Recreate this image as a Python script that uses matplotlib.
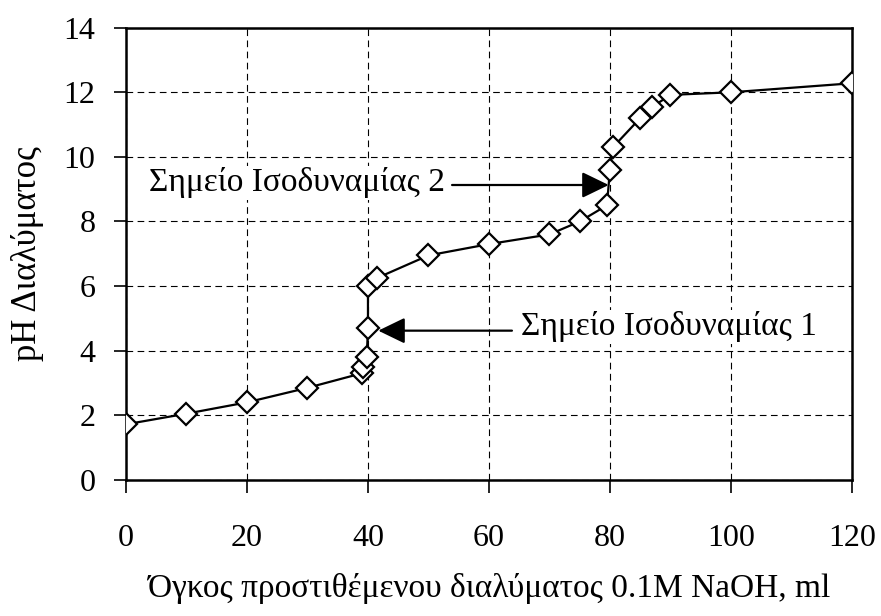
import matplotlib
matplotlib.use('Agg')
import matplotlib.pyplot as plt

plt.rcParams['font.family'] = ['Liberation Serif', 'DejaVu Serif']

# titration data: volume of NaOH (ml) vs pH
volume = [0, 10, 20, 30, 39, 39.2, 39.8, 40, 40, 41.5, 50, 60, 70, 75, 79.5, 80, 80.5, 85, 87, 90, 100, 120]
ph = [1.72, 2.05, 2.4, 2.85, 3.3, 3.5, 3.8, 4.7, 6.0, 6.25, 6.95, 7.3, 7.6, 8.0, 8.5, 9.6, 10.3, 11.2, 11.55, 11.92, 12.0, 12.28]

xticks = [0, 20, 40, 60, 80, 100, 120]
yticks = [0, 2, 4, 6, 8, 10, 12, 14]

label1 = 'Σημείο Ισοδυναμίας 1'
label2 = 'Σημείο Ισοδυναμίας 2'

fig = plt.figure(figsize=(8.81, 6.16), dpi=100)
ax = fig.add_axes([0.143, 0.221, 0.824, 0.734])

ax.plot(volume, ph, c='black', lw=1.6, marker='D', ms=11.5,
        mfc='white', mec='black', mew=1.6, zorder=3)

ax.set_xlim(0, 120)
ax.set_ylim(0, 14)
ax.set_xticks(xticks)
ax.set_yticks(yticks)
ax.tick_params(direction='out', length=9, width=1.2, labelsize=23)
ax.tick_params(axis='x', pad=23)
ax.tick_params(axis='y', pad=13)
ax.grid(True, color='black', ls=(0, (6, 4)), lw=0.8)
for s in ax.spines.values():
    s.set_linewidth(1.8)

ax.set_xlabel('Όγκος προστιθέμενου διαλύματος 0.1M NaOH, ml', fontsize=24, labelpad=14)
ax.set_ylabel('pH Διαλύματος', fontsize=25, labelpad=14)

arrow = dict(arrowstyle='-|>,head_length=1.65,head_width=0.8', color='black', lw=1.6,
             shrinkA=0, shrinkB=0)
ax.annotate('', xy=(41.7, 4.62), xytext=(63.8, 4.62), arrowprops=arrow, zorder=4)
ax.text(65.3, 4.74, label1, fontsize=24, ha='left', va='center',
        bbox=dict(fc='white', ec='none', pad=1), zorder=4)
ax.annotate('', xy=(79.8, 9.13), xytext=(53.9, 9.13), arrowprops=arrow, zorder=4)
ax.text(52.7, 9.2, label2, fontsize=24, ha='right', va='center',
        bbox=dict(fc='white', ec='none', pad=1), zorder=4)

fig.savefig('out.png', dpi=100)
